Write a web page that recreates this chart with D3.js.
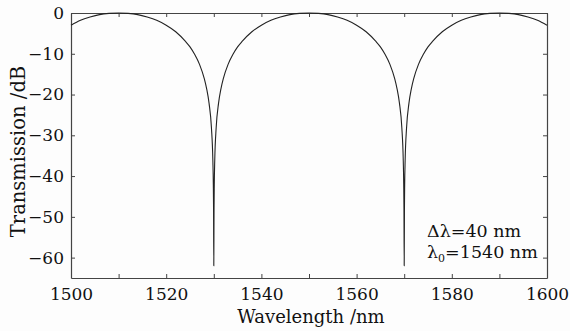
<!DOCTYPE html>
<html>
<head>
<meta charset="utf-8">
<script src="https://cdn.jsdelivr.net/npm/d3@7"></script>
<style>
  body { margin: 0; background: #fdfdfd; }
  text { font-family: "DejaVu Serif", serif; fill: #111; }
</style>
</head>
<body>
<script>
// chart size and plot box
var W = 570, H = 331;
var left_pad = 71, right_pad = 23, top_pad = 13, bottom_pad = 53;

// wavelength (nm) and transmission (dB)
var wavelength = [
  1500, 1502, 1504, 1506, 1508, 1510, 1512, 1514, 1516, 1518, 1520,
  1522, 1524, 1525, 1526, 1527, 1528, 1528.5, 1529, 1529.5, 1529.8, 1529.9, 1529.95,
  1530,
  1530.05, 1530.1, 1530.2, 1530.5, 1531, 1531.5, 1532, 1533, 1534, 1535, 1536, 1538,
  1540, 1542, 1544, 1546, 1548, 1550, 1552, 1554, 1556, 1558, 1560,
  1562, 1564, 1565, 1566, 1567, 1568, 1568.5, 1569, 1569.5, 1569.8, 1569.9, 1569.95,
  1570,
  1570.05, 1570.1, 1570.2, 1570.5, 1571, 1571.5, 1572, 1573, 1574, 1575, 1576, 1578,
  1580, 1582, 1584, 1586, 1588, 1590, 1592, 1594, 1596, 1598, 1600
];
var transmission = [
  -3.0, -1.8, -1.0, -0.4, -0.1, 0, -0.1, -0.4, -1.0, -1.8, -3.0,
  -4.6, -6.9, -8.3, -10.2, -12.6, -16.1, -18.6, -22.1, -28.1, -36.1, -42.1, -48.1,
  -62,
  -48.1, -42.1, -36.1, -28.1, -22.1, -18.6, -16.1, -12.6, -10.2, -8.3, -6.9, -4.6,
  -3.0, -1.8, -1.0, -0.4, -0.1, 0, -0.1, -0.4, -1.0, -1.8, -3.0,
  -4.6, -6.9, -8.3, -10.2, -12.6, -16.1, -18.6, -22.1, -28.1, -36.1, -42.1, -48.1,
  -62,
  -48.1, -42.1, -36.1, -28.1, -22.1, -18.6, -16.1, -12.6, -10.2, -8.3, -6.9, -4.6,
  -3.0, -1.8, -1.0, -0.4, -0.1, 0, -0.1, -0.4, -1.0, -1.8, -3.0
];

var x_ticks = [1500, 1510, 1520, 1530, 1540, 1550, 1560, 1570, 1580, 1590, 1600];
var x_labels = [1500, 1520, 1540, 1560, 1580, 1600];
var y_ticks = [0, -10, -20, -30, -40, -50, -60];

var width = W - left_pad - right_pad, height = H - top_pad - bottom_pad;

var svg = d3.select('body').append('svg')
  .attr('width', W).attr('height', H);

var g = svg.append('g')
  .attr('transform', 'translate(' + left_pad + ',' + top_pad + ')');

var xScale = d3.scaleLinear().domain([1500, 1600]).range([0, width]);
var yScale = d3.scaleLinear().domain([-65, 0]).range([height, 0]);

var tick_len = 4;
var fmt = function(d) { return x_labels.indexOf(d) >= 0 ? d : ''; };
var yfmt = function(d) { return d < 0 ? '\u2212' + (-d) : d; };

// bottom and left axes with inward ticks
g.append('g').attr('id', 'xaxis')
  .attr('transform', 'translate(0,' + height + ')')
  .call(d3.axisBottom(xScale).tickValues(x_ticks).tickSizeInner(-tick_len).tickSizeOuter(0).tickPadding(10).tickFormat(fmt));
g.append('g').attr('id', 'yaxis')
  .call(d3.axisLeft(yScale).tickValues(y_ticks).tickSizeInner(-tick_len).tickSizeOuter(0).tickPadding(7).tickFormat(yfmt));
// top and right mirror axes
g.append('g').attr('id', 'xaxis_top')
  .call(d3.axisTop(xScale).tickValues(x_ticks).tickSizeInner(-tick_len).tickSizeOuter(0).tickFormat(''));
g.append('g').attr('id', 'yaxis_right')
  .attr('transform', 'translate(' + width + ',0)')
  .call(d3.axisRight(yScale).tickValues(y_ticks).tickSizeInner(-tick_len).tickSizeOuter(0).tickFormat(''));

g.selectAll('.domain').attr('stroke', '#444').attr('stroke-width', 1.2);
g.selectAll('.tick line').attr('stroke', '#444');
g.selectAll('.tick text').attr('font-size', '17px').attr('fill', '#111')
  .attr('font-family', '"DejaVu Serif", serif');

// the curve
var pts = wavelength.map(function(d, i) { return [d, transmission[i]]; });
var line = d3.line()
  .x(function(d) { return xScale(d[0]); })
  .y(function(d) { return yScale(d[1]); })
  .curve(d3.curveMonotoneX);

g.append('path').datum(pts)
  .attr('d', line)
  .attr('fill', 'none')
  .attr('stroke', '#222')
  .attr('stroke-width', 1.1);

// axis labels
svg.append('text').text('Wavelength /nm')
  .attr('x', left_pad + width / 2 + 2).attr('y', H - 8)
  .attr('text-anchor', 'middle').attr('font-size', '18px');

svg.append('text').text('Transmission /dB')
  .attr('transform', 'translate(25,' + (top_pad + height / 2 + 6) + ') rotate(-90)')
  .attr('text-anchor', 'middle').attr('font-size', '19.5px');

// annotation
var note = svg.append('g').attr('transform', 'translate(427,0)');
var t1 = note.append('text').attr('x', 0).attr('y', 237).attr('font-size', '17.5px');
t1.append('tspan').text('\u0394\u03bb=40 nm');
var t2 = note.append('text').attr('x', 0).attr('y', 258).attr('font-size', '17.5px');
t2.append('tspan').text('\u03bb');
t2.append('tspan').text('0').attr('font-size', '11px').attr('dy', 4);
t2.append('tspan').text('=1540 nm').attr('dy', -4);
</script>
</body>
</html>
